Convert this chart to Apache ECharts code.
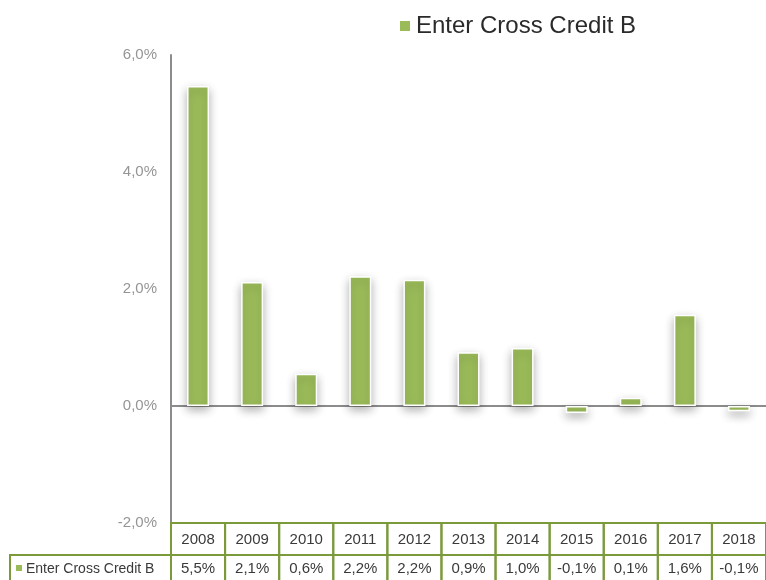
<!DOCTYPE html>
<html>
<head>
<meta charset="utf-8">
<script src="https://cdn.jsdelivr.net/npm/echarts@6/dist/echarts.min.js"></script>
<style>
html,body{margin:0;padding:0;background:#fff;}
#chart{width:766px;height:580px;}
</style>
</head>
<body>
<div id="chart"></div>
<script>
var seriesName = 'Enter Cross Credit B';
var years = ['2008','2009','2010','2011','2012','2013','2014','2015','2016','2017','2018'];
var values = [5.47, 2.12, 0.55, 2.22, 2.16, 0.92, 0.99, -0.12, 0.14, 1.56, -0.09];
var yTicks = { min: -2, max: 6, interval: 2 };

var GREEN = '#9BBB59';
var BORDER = '#7A9A3C';
var FONT = '"Liberation Sans", Arial, sans-serif';

function fmt(v, d) {
  var r = Math.round(v * Math.pow(10, d)) / Math.pow(10, d);
  return r.toFixed(d).replace('.', ',') + '%';
}

var chart = echarts.init(document.getElementById('chart'), null, { renderer: 'canvas' });

var tableData = years.map(function (y, i) { return [i, 0, y, fmt(values[i], 1)]; });

var option = {
  animation: false,
  backgroundColor: '#fff',
  legend: {
    data: [seriesName],
    left: 393,
    top: 9,
    icon: 'rect',
    itemWidth: 12,
    itemHeight: 12,
    itemGap: 7,
    textStyle: { fontSize: 24, color: '#2a2a2a', fontFamily: FONT, fontWeight: 'normal' }
  },
  grid: [
    { left: 171, top: 55, width: 597, height: 468, containLabel: false },
    { left: 171, top: 523, width: 597, height: 57, containLabel: false }
  ],
  xAxis: [
    {
      type: 'category', gridIndex: 0, data: years,
      axisLine: { show: true, onZero: true, lineStyle: { color: '#8c8c8c', width: 2 } },
      axisTick: { show: false }, axisLabel: { show: false }, splitLine: { show: false }
    },
    {
      type: 'category', gridIndex: 1, data: years,
      axisLine: { show: false }, axisTick: { show: false }, axisLabel: { show: false }
    }
  ],
  yAxis: [
    {
      type: 'value', gridIndex: 0, min: yTicks.min, max: yTicks.max, interval: yTicks.interval,
      axisLine: { show: true, lineStyle: { color: '#8c8c8c', width: 2 } },
      axisTick: { show: false },
      splitLine: { show: false },
      axisLabel: {
        margin: 14, fontSize: 15, color: '#959595', fontFamily: FONT,
        formatter: function (v) { return fmt(v, 1); }
      }
    },
    {
      type: 'value', gridIndex: 1, min: 0, max: 57, inverse: true,
      axisLine: { show: false }, axisTick: { show: false }, axisLabel: { show: false }, splitLine: { show: false }
    }
  ],
  series: [
    {
      name: seriesName,
      type: 'bar',
      xAxisIndex: 0, yAxisIndex: 0,
      data: values,
      barWidth: 22,
      itemStyle: {
        color: GREEN,
        borderColor: '#ffffff',
        borderWidth: 1.5,
        shadowBlur: 10,
        shadowColor: 'rgba(0,0,0,0.3)',
        shadowOffsetY: 4
      }
    },
    {
      type: 'custom',
      xAxisIndex: 1, yAxisIndex: 1,
      data: tableData,
      silent: true,
      renderItem: function (params, api) {
        var i = api.value(0);
        var c = api.coord([i, 0]);
        var w = api.size([1, 0])[0];
        var x0 = c[0] - w / 2;
        var yTop = api.coord([i, 0])[1];
        var yMid = api.coord([i, 32])[1];
        var yBot = api.coord([i, 70])[1];
        var d = tableData[params.dataIndex];
        return {
          type: 'group',
          children: [
            { type: 'rect', shape: { x: x0, y: yTop, width: w, height: yMid - yTop },
              style: { fill: null, stroke: BORDER, lineWidth: 2 } },
            { type: 'rect', shape: { x: x0, y: yMid, width: w, height: yBot - yMid },
              style: { fill: null, stroke: BORDER, lineWidth: 2 } },
            { type: 'text', x: c[0], y: (yTop + yMid) / 2 + 1,
              style: { text: d[2], fill: '#3a3a3a', font: '15px ' + FONT, align: 'center', verticalAlign: 'middle' } },
            { type: 'text', x: c[0], y: yMid + 14,
              style: { text: d[3], fill: '#3a3a3a', font: '15px ' + FONT, align: 'center', verticalAlign: 'middle' } }
          ]
        };
      }
    }
  ],
  graphic: [
    { type: 'rect', shape: { x: 10, y: 555, width: 161, height: 40 },
      style: { fill: null, stroke: BORDER, lineWidth: 2 } },
    { type: 'rect', shape: { x: 16, y: 565, width: 6, height: 6 }, style: { fill: GREEN } },
    { type: 'text', x: 26, y: 569,
      style: { text: seriesName, fill: '#3a3a3a', font: '14px ' + FONT, verticalAlign: 'middle' } }
  ]
};

chart.setOption(option);
</script>
</body>
</html>
